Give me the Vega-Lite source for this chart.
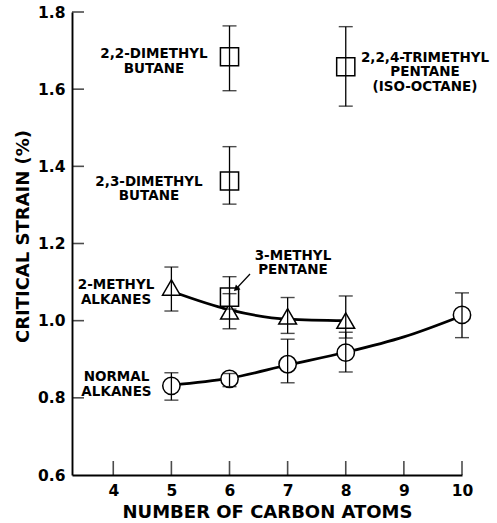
{
  "$schema": "https://vega.github.io/schema/vega-lite/v6.json",
  "width": 390,
  "height": 463,
  "autosize": {"type": "none"},
  "padding": {"left": 72, "top": 12, "right": 35, "bottom": 48},
  "background": "white",
  "config": {
    "view": {"stroke": null},
    "font": "DejaVu Sans",
    "axis": {"domainColor": "black", "domainWidth": 1.9, "ticks": false, "tickSize": 0, "grid": false,
      "labelFont": "DejaVu Sans", "labelFontWeight": "bold", "labelFontSize": 15.5, "labelColor": "black",
      "titleFont": "DejaVu Sans", "titleFontWeight": "bold", "titleFontSize": 18, "titleColor": "black", "labelFlush": false},
    "axisX": {"labelPadding": 8, "titleY": 42, "titleBaseline": "alphabetic"},
    "axisY": {"labelPadding": 7, "titleX": -44, "titleY": 224, "titleBaseline": "alphabetic", "titleAngle": 270}
  },
  "datasets": {
    "pts": [
      {"series": "Normal alkanes", "x": 5, "y": 0.831, "lo": 0.794, "hi": 0.865},
      {"series": "Normal alkanes", "x": 6, "y": 0.849, "lo": 0.829, "hi": 0.863},
      {"series": "Normal alkanes", "x": 7, "y": 0.887, "lo": 0.839, "hi": 0.952},
      {"series": "Normal alkanes", "x": 8, "y": 0.917, "lo": 0.867, "hi": 0.97},
      {"series": "Normal alkanes", "x": 10, "y": 1.015, "lo": 0.956, "hi": 1.072},
      {"series": "2-Methyl alkanes", "x": 5, "y": 1.086, "lo": 1.025, "hi": 1.139},
      {"series": "2-Methyl alkanes", "x": 6, "y": 1.024, "lo": 0.979, "hi": 1.07},
      {"series": "2-Methyl alkanes", "x": 7, "y": 1.011, "lo": 0.967, "hi": 1.06},
      {"series": "2-Methyl alkanes", "x": 8, "y": 1.0, "lo": 0.955, "hi": 1.064},
      {"series": "Branched isomers", "x": 6, "y": 1.684, "lo": 1.596, "hi": 1.764},
      {"series": "Branched isomers", "x": 6, "y": 1.362, "lo": 1.302, "hi": 1.451},
      {"series": "Branched isomers", "x": 6, "y": 1.061, "lo": 1.03, "hi": 1.114},
      {"series": "Branched isomers", "x": 8, "y": 1.658, "lo": 1.556, "hi": 1.762}
    ],
    "fit": [
      {"series": "Normal alkanes", "x": 5, "y": 0.833},
      {"series": "Normal alkanes", "x": 6, "y": 0.851},
      {"series": "Normal alkanes", "x": 7, "y": 0.885},
      {"series": "Normal alkanes", "x": 8, "y": 0.918},
      {"series": "Normal alkanes", "x": 9, "y": 0.958},
      {"series": "Normal alkanes", "x": 10, "y": 1.013},
      {"series": "2-Methyl alkanes", "x": 5, "y": 1.076},
      {"series": "2-Methyl alkanes", "x": 6, "y": 1.028},
      {"series": "2-Methyl alkanes", "x": 7, "y": 1.004},
      {"series": "2-Methyl alkanes", "x": 8, "y": 1.0}
    ],
    "labels": [
      {"x": 4.70, "y": 1.680, "label": "2,2-DIMETHYL\nBUTANE"},
      {"x": 4.615, "y": 1.350, "label": "2,3-DIMETHYL\nBUTANE"},
      {"x": 9.364, "y": 1.671, "label": "2,2,4-TRIMETHYL\nPENTANE\n(ISO-OCTANE)"},
      {"x": 7.092, "y": 1.1585, "label": "3-METHYL\nPENTANE"},
      {"x": 4.047, "y": 1.081, "label": "2-METHYL\nALKANES"},
      {"x": 4.055, "y": 0.8435, "label": "NORMAL\nALKANES"}
    ],
    "arrow": [
      {"x": 6.353, "y": 1.121, "x2": 6.112, "y2": 1.082}
    ],
    "xticks": [{"x": 4, "y": 0.6}, {"x": 5, "y": 0.6}, {"x": 6, "y": 0.6}, {"x": 7, "y": 0.6}, {"x": 8, "y": 0.6}, {"x": 9, "y": 0.6}, {"x": 10, "y": 0.6}],
    "yticks": [{"x": 3.29, "y": 0.8}, {"x": 3.29, "y": 1.0}, {"x": 3.29, "y": 1.2}, {"x": 3.29, "y": 1.4}, {"x": 3.29, "y": 1.6}, {"x": 3.29, "y": 1.8}]
  },
  "encoding": {
    "x": {"field": "x", "type": "quantitative", "title": "NUMBER OF CARBON ATOMS",
      "scale": {"domain": [3.29, 10], "nice": false, "zero": false},
      "axis": {"values": [4, 5, 6, 7, 8, 9, 10], "format": "d"}},
    "y": {"field": "y", "type": "quantitative", "title": "CRITICAL STRAIN (%)",
      "scale": {"domain": [0.6, 1.8], "nice": false, "zero": false},
      "axis": {"values": [0.6, 0.8, 1.0, 1.2, 1.4, 1.6, 1.8], "format": ".1f"}}
  },
  "layer": [
    {
      "data": {"name": "xticks"},
      "mark": {"type": "tick", "orient": "vertical", "color": "black", "size": 14, "thickness": 1.6, "yOffset": -7},
      "encoding": {}
    },
    {
      "data": {"name": "yticks"},
      "mark": {"type": "tick", "orient": "horizontal", "color": "black", "size": 12, "thickness": 1.6, "xOffset": 6},
      "encoding": {}
    },
    {
      "data": {"name": "fit"},
      "mark": {"type": "line", "color": "black", "strokeWidth": 2.7, "interpolate": "monotone"},
      "encoding": {"detail": {"field": "series", "type": "nominal"}}
    },
    {
      "data": {"name": "pts"},
      "mark": {"type": "point", "filled": true, "fill": "white", "stroke": "black", "strokeWidth": 1.5, "opacity": 1},
      "encoding": {
        "shape": {"field": "series", "type": "nominal", "legend": null,
          "scale": {"domain": ["Normal alkanes", "2-Methyl alkanes", "Branched isomers"], "range": ["circle", "triangle-up", "square"]}},
        "size": {"field": "series", "type": "nominal", "legend": null,
          "scale": {"domain": ["Normal alkanes", "2-Methyl alkanes", "Branched isomers"], "range": [300, 330, 215]}}
      }
    },
    {
      "data": {"name": "pts"},
      "mark": {"type": "rule", "color": "black", "strokeWidth": 1.3},
      "encoding": {
        "y": {"field": "lo", "type": "quantitative", "title": "CRITICAL STRAIN (%)",
          "scale": {"domain": [0.6, 1.8], "nice": false, "zero": false},
          "axis": {"values": [0.6, 0.8, 1.0, 1.2, 1.4, 1.6, 1.8], "format": ".1f"}},
        "y2": {"field": "hi"}
      }
    },
    {
      "data": {"name": "pts"},
      "mark": {"type": "tick", "orient": "horizontal", "color": "black", "size": 14, "thickness": 1.4},
      "encoding": {
        "y": {"field": "lo", "type": "quantitative", "title": "CRITICAL STRAIN (%)",
          "scale": {"domain": [0.6, 1.8], "nice": false, "zero": false},
          "axis": {"values": [0.6, 0.8, 1.0, 1.2, 1.4, 1.6, 1.8], "format": ".1f"}}
      }
    },
    {
      "data": {"name": "pts"},
      "mark": {"type": "tick", "orient": "horizontal", "color": "black", "size": 14, "thickness": 1.4},
      "encoding": {
        "y": {"field": "hi", "type": "quantitative", "title": "CRITICAL STRAIN (%)",
          "scale": {"domain": [0.6, 1.8], "nice": false, "zero": false},
          "axis": {"values": [0.6, 0.8, 1.0, 1.2, 1.4, 1.6, 1.8], "format": ".1f"}}
      }
    },
    {
      "data": {"name": "labels"},
      "mark": {"type": "text", "font": "DejaVu Sans", "fontWeight": "bold", "fontSize": 13.5, "align": "center", "baseline": "alphabetic", "lineBreak": "\n", "lineHeight": 14.5, "color": "black"},
      "encoding": {"text": {"field": "label", "type": "nominal"}}
    },
    {
      "data": {"name": "arrow"},
      "mark": {"type": "rule", "color": "black", "strokeWidth": 1.2},
      "encoding": {"x2": {"field": "x2"}, "y2": {"field": "y2"}}
    },
    {
      "data": {"name": "arrow"},
      "mark": {"type": "point", "shape": "triangle-up", "filled": true, "color": "black", "size": 45, "angle": 228, "opacity": 1},
      "encoding": {
        "x": {"field": "x2", "type": "quantitative", "title": "NUMBER OF CARBON ATOMS",
          "scale": {"domain": [3.29, 10], "nice": false, "zero": false},
          "axis": {"values": [4, 5, 6, 7, 8, 9, 10], "format": "d"}},
        "y": {"field": "y2", "type": "quantitative", "title": "CRITICAL STRAIN (%)",
          "scale": {"domain": [0.6, 1.8], "nice": false, "zero": false},
          "axis": {"values": [0.6, 0.8, 1.0, 1.2, 1.4, 1.6, 1.8], "format": ".1f"}}
      }
    }
  ]
}
